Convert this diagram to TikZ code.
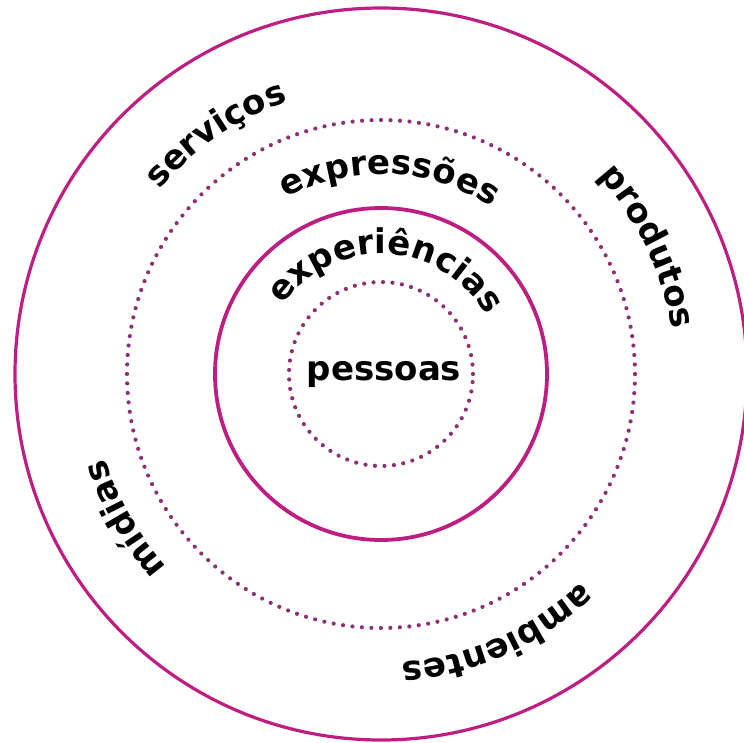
\documentclass[tikz,border=0pt]{standalone}
\usepackage{fontspec}
\setmainfont{DejaVu Sans}
\usepackage{tikz}
\usetikzlibrary{decorations.text}
\definecolor{rosa}{RGB}{190,30,130}
\definecolor{rosaponto}{RGB}{140,50,115}
\newcommand{\fonterotulo}{\bfseries\fontsize{34}{40}\selectfont}

\begin{document}
\begin{tikzpicture}[x=1pt, y=1pt,
		anel/.style={draw=rosa, line width=3.2pt},
		anelponto/.style={draw=rosaponto, line width=4.2pt, line cap=round, dash pattern=on 0pt off 9.5pt}]
				\useasboundingbox (-381,-368) rectangle (363,374);
				\coordinate (centro) at (0,0);
				
				\draw[anel] (centro) circle[radius=366];
				\draw[anelponto] (centro) circle[radius=254];
				\draw[anel, line width=3.8pt] (centro) circle[radius=166];
				\draw[anelponto] (centro) circle[radius=92];
				
				\node[anchor=base, font=\fonterotulo] (pessoas) at (3,-6) {pessoas};
				
				\path[decorate, decoration={text along path, text align=center,
				text={|\fonterotulo|serviços}}]
				(184.5:288) arc[start angle=184.5, end angle=64.5, radius=288];
				\path[decorate, decoration={text along path, text align=center,
				text={|\fonterotulo|produtos}}]
				(85.5:294) arc[start angle=85.5, end angle=-34.5, radius=294];
				\path[decorate, decoration={text along path, text align=center,
				text={|\fonterotulo|ambientes}}]
				(354:289) arc[start angle=354, end angle=234, radius=289];
				\path[decorate, decoration={text along path, text align=center,
				text={|\fonterotulo|mídias}}]
				(269.5:288) arc[start angle=269.5, end angle=149.5, radius=288];
				
				\path[decorate, decoration={text along path, text align=center,
				text={|\fonterotulo|expressões}}]
				(147.5:200) arc[start angle=147.5, end angle=27.5, radius=200];
				\path[decorate, decoration={text along path, text align=center,
				text={|\fonterotulo|experiências}}]
				(167:120) arc[start angle=167, end angle=7, radius=120];
			\end{tikzpicture}
\end{document}
